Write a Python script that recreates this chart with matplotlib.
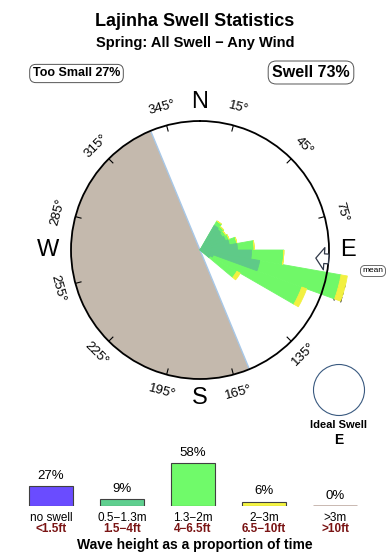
import numpy as np
import matplotlib
matplotlib.use('Agg')
import matplotlib.pyplot as plt
from matplotlib.patches import Circle

plt.rcParams['font.family'] = ['Liberation Sans', 'DejaVu Sans']

W, H = 390, 560

# swell rose: 10 degree direction bins, radial units (circle edge = 100)
dir_bins = [35, 45, 55, 65, 75, 85, 95, 105, 115, 125]
r_small = [22, 21, 20, 21, 23, 29, 40, 47, 11, 9]      # 0.5-1.3m
r_mid = [4, 3, 3, 3, 6, 13, 25, 64, 73, 24]            # 1.3-2m
r_big = [0, 0, 0, 0, 0, 0, 0, 5, 4, 3]                 # 2-3m
land_from, land_to = 157.5, 337.5
mean_dir = 94
tick_deg = [15, 45, 75, 105, 135, 165, 195, 225, 255, 285, 315, 345]

# wave height bars
cats = ['no swell', '0.5\u22121.3m', '1.3\u22122m', '2\u22123m', '>3m']
feet = ['<1.5ft', '1.5\u22124ft', '4\u22126.5ft', '6.5\u221210ft', '>10ft']
pct = [27, 9, 58, 6, 0]
bar_cols = ['#6a4cff', '#5fcf8f', '#70fa6a', '#f5f542', '#c4b2aa']

c_small, c_mid, c_big = '#5fca88', '#70f868', '#f2f040'


def tang_rot(b):
    if b < 90:
        return -b
    elif b < 270:
        return 180 - b
    return 360 - b


fig = plt.figure(figsize=(W / 100, H / 100), dpi=100)

# overlay in pixel units for loose text
bg = fig.add_axes([0, 0, 1, 1])
bg.set_xlim(0, W)
bg.set_ylim(H, 0)
bg.axis('off')

bg.text(195, 22, 'Lajinha Swell Statistics', ha='center', va='center',
        fontsize=13, fontweight='bold')
bg.text(195, 43, 'Spring: All Swell \u2212 Any Wind', ha='center', va='center',
        fontsize=10.5, fontweight='bold')
bg.text(76.5, 73.5, 'Too Small 27%', ha='center', va='center', fontsize=9,
        fontweight='bold',
        bbox=dict(boxstyle='round,pad=0.25,rounding_size=0.5', fc='white', ec='#555555', lw=0.7))
bg.text(311, 72.5, 'Swell 73%', ha='center', va='center', fontsize=11.5,
        fontweight='bold',
        bbox=dict(boxstyle='round,pad=0.25,rounding_size=0.5', fc='white', ec='#555555', lw=0.7))
bg.text(373, 271, 'mean', ha='center', va='center', fontsize=6,
        bbox=dict(boxstyle='round,pad=0.25,rounding_size=0.6', fc='white', ec='#555555', lw=0.6))

bg.add_patch(Circle((339, 390), 25.5, fill=False, ec='#3a5a80', lw=0.8))
bg.text(339, 425, 'Ideal Swell', ha='center', va='center', fontsize=8, fontweight='bold')
bg.text(339, 440, 'E', ha='center', va='center', fontsize=10, fontweight='bold')
bg.text(195, 545, 'Wave height as a proportion of time', ha='center', va='center',
        fontsize=10, fontweight='bold')

# rose
ax = fig.add_axes([71 / W, (H - 250 - 129) / H, 258 / W, 258 / H], projection='polar')
ax.set_theta_zero_location('N')
ax.set_theta_direction(-1)
ax.set_ylim(0, 100)
ax.set_xticks([])
ax.set_yticks([])
ax.grid(False)
ax.spines['polar'].set_linewidth(1.3)
ax.spines['polar'].set_zorder(4)

land_w = np.radians(land_to - land_from)
ax.bar(np.radians(land_from) + land_w / 2, 100, width=land_w, color='#c4b9ad', lw=0, zorder=1)
for a in (land_from, land_to):
    ax.plot([np.radians(a)] * 2, [0, 100], color='#a8c8e8', lw=1, zorder=1.5)

th = np.radians(dir_bins)
bw = np.radians(10)
small = np.array(r_small)
mid = np.array(r_mid)
# mid layer drawn first as full length so no seams show between stacked parts
ax.bar(th, small + mid, width=bw, color=c_mid, ec=c_mid, lw=0.6, zorder=3, clip_on=False)
ax.bar(th, r_big, bottom=small + mid, width=bw, color=c_big, ec=c_big, lw=0.6, zorder=3.1,
       clip_on=False)
ax.bar(th, small, width=bw, color=c_small, ec=c_small, lw=0.6, zorder=3.2, clip_on=False)

for b in tick_deg:
    ax.plot([np.radians(b)] * 2, [95.5, 100], color='k', lw=0.8, zorder=2)
    ax.text(np.radians(b), 114, f'{b}\u00b0', rotation=tang_rot(b), rotation_mode='anchor',
            ha='center', va='center', fontsize=9.5, zorder=2)

for lab, ang, rr in [('N', 0, 115), ('E', 90, 115), ('S', 180, 115), ('W', 270, 118)]:
    ax.text(np.radians(ang), rr, lab, ha='center', va='center', fontsize=17, zorder=5)

ax.annotate('', xy=(np.radians(mean_dir), 90), xytext=(np.radians(mean_dir), 100),
            arrowprops=dict(arrowstyle='simple,head_length=0.6,head_width=1.6,tail_width=0.7',
                            mutation_scale=10, fc='white', ec='#303848', lw=0.9,
                            shrinkA=0, shrinkB=0),
            zorder=5, annotation_clip=False)

# wave height bars
bx = fig.add_axes([15.5 / W, (H - 506) / H, 355 / W, 52.5 / H])
bx.set_xlim(-0.5, 4.5)
bx.set_ylim(0, 70)
bx.axis('off')
edges = ['#404040' if v > 0 else c for v, c in zip(pct, bar_cols)]
widths = [0.8 if v > 0 else 2 for v in pct]
bx.bar(range(len(pct)), pct, width=0.63, color=bar_cols, edgecolor=edges, linewidth=widths)
for i, v in enumerate(pct):
    bx.annotate(f'{v}%', (i, v), xytext=(0, 4), textcoords='offset pixels',
                ha='center', va='bottom', fontsize=9.5, annotation_clip=False)
    bx.annotate(cats[i], (i, 0), xytext=(0, -12), textcoords='offset pixels',
                ha='center', va='center', fontsize=8.5, annotation_clip=False)
    bx.annotate(feet[i], (i, 0), xytext=(0, -23), textcoords='offset pixels',
                ha='center', va='center', fontsize=8.5, fontweight='bold',
                color='#7a1414', annotation_clip=False)

fig.savefig('out.png', dpi=100)
